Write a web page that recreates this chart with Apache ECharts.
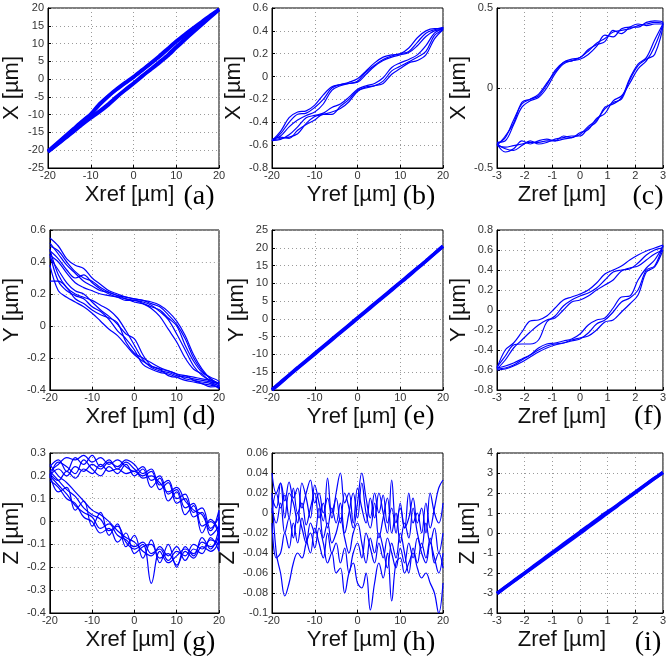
<!DOCTYPE html>
<html><head><meta charset="utf-8">
<script src="https://cdn.jsdelivr.net/npm/echarts@6/dist/echarts.min.js"></script>
<style>html,body{margin:0;padding:0;background:#fff}#c{width:669px;height:663px}</style>
</head><body><div id="c"></div>
<script>
// ---- shared abscissa grids (reference positions) ----
const G20 = [-20,-18,-16,-14,-12,-10,-8,-6,-4,-2,0,2,4,6,8,10,12,14,16,18,20];
const G3  = [-3,-2.7,-2.4,-2.1,-1.8,-1.5,-1.2,-0.9,-0.6,-0.3,0,0.3,0.6,0.9,1.2,1.5,1.8,2.1,2.4,2.7,3];
const G1  = [-20,-19,-18,-17,-16,-15,-14,-13,-12,-11,-10,-9,-8,-7,-6,-5,-4,-3,-2,-1,0,1,2,3,4,5,6,7,8,9,10,11,12,13,14,15,16,17,18,19,20];

// ---- tick labels ----
const tXref = [-20,-10,0,10,20];
const tZref = [-3,-2,-1,0,1,2,3];
const tA = [-25,-20,-15,-10,-5,0,5,10,15,20];
const tB = [-0.8,-0.6,-0.4,-0.2,0,0.2,0.4,0.6];
const tC = [-0.5,0,0.5];
const tD = [-0.4,-0.2,0,0.2,0.4,0.6];
const tE = [-20,-15,-10,-5,0,5,10,15,20,25];
const tF = [-0.8,-0.6,-0.4,-0.2,0,0.2,0.4,0.6,0.8];
const tG = [-0.4,-0.3,-0.2,-0.1,0,0.1,0.2,0.3];
const tH = [-0.1,-0.08,-0.06,-0.04,-0.02,0,0.02,0.04,0.06];
const tI = [-4,-3,-2,-1,0,1,2,3,4];

// ---- (a) X vs Xref : up / down branches ----
const a_up1 = [-20.3,-18.3,-16.2,-14.1,-12.0,-10.0,-7.3,-5.0,-3.0,-1.2,0.5,2.4,4.3,6.2,8.3,10.5,12.3,14.2,16.0,17.8,19.5];
const a_dn1 = [-20.5,-18.6,-16.7,-14.8,-12.8,-11.0,-9.3,-7.4,-5.2,-3.2,-1.3,0.7,2.6,4.5,6.5,8.8,11.0,13.2,15.3,17.4,19.5];
const a_up2 = [-20.2,-18.1,-16.0,-13.9,-11.8,-9.8,-7.0,-4.8,-2.8,-1.0,0.7,2.6,4.5,6.5,8.6,10.7,12.6,14.4,16.2,18.0,19.6];
const a_dn2 = [-20.4,-18.5,-16.5,-14.6,-12.6,-10.7,-9.0,-7.1,-5.0,-3.0,-1.1,0.9,2.8,4.8,6.8,9.1,11.3,13.4,15.5,17.6,19.6];

// ---- (b) X vs Yref ----
const b_up1 = [-0.56,-0.50,-0.40,-0.33,-0.32,-0.27,-0.20,-0.10,-0.07,-0.06,-0.04,0.04,0.10,0.15,0.18,0.20,0.22,0.30,0.38,0.41,0.43];
const b_dn1 = [-0.56,-0.54,-0.53,-0.50,-0.41,-0.35,-0.33,-0.31,-0.28,-0.22,-0.13,-0.09,-0.08,-0.04,0.05,0.09,0.13,0.17,0.22,0.36,0.42];
const b_up2 = [-0.56,-0.48,-0.36,-0.31,-0.30,-0.25,-0.16,-0.09,-0.07,-0.05,-0.02,0.05,0.12,0.17,0.19,0.20,0.25,0.34,0.40,0.42,0.42];
const b_dn2 = [-0.56,-0.55,-0.51,-0.44,-0.36,-0.34,-0.32,-0.27,-0.24,-0.18,-0.11,-0.08,-0.06,-0.01,0.08,0.12,0.15,0.19,0.27,0.38,0.42];
const b_up3 = [-0.55,-0.52,-0.44,-0.38,-0.34,-0.31,-0.24,-0.12,-0.08,-0.06,-0.05,0.02,0.09,0.14,0.17,0.19,0.21,0.27,0.35,0.40,0.41];
const b_dn3 = [-0.56,-0.53,-0.54,-0.47,-0.42,-0.38,-0.33,-0.33,-0.26,-0.20,-0.12,-0.10,-0.08,-0.06,0.02,0.07,0.12,0.14,0.19,0.33,0.41];

// ---- (c) X vs Zref ----
const c_up1 = [-0.35,-0.31,-0.20,-0.10,-0.07,-0.05,0.02,0.11,0.16,0.17,0.19,0.23,0.28,0.31,0.35,0.36,0.37,0.39,0.40,0.41,0.40];
const c_dn1 = [-0.36,-0.37,-0.36,-0.35,-0.34,-0.34,-0.33,-0.33,-0.32,-0.31,-0.29,-0.24,-0.20,-0.13,-0.09,-0.07,0.05,0.14,0.18,0.21,0.40];
const c_up2 = [-0.34,-0.33,-0.23,-0.12,-0.08,-0.06,0.00,0.09,0.15,0.17,0.18,0.21,0.26,0.33,0.32,0.37,0.38,0.38,0.41,0.42,0.41];
const c_dn2 = [-0.35,-0.40,-0.38,-0.33,-0.35,-0.33,-0.32,-0.33,-0.30,-0.31,-0.28,-0.26,-0.19,-0.16,-0.08,-0.05,0.03,0.12,0.17,0.26,0.41];
const c_up3 = [-0.36,-0.30,-0.22,-0.09,-0.07,-0.04,0.03,0.10,0.16,0.18,0.19,0.24,0.27,0.29,0.36,0.34,0.38,0.40,0.39,0.40,0.40];
const c_dn3 = [-0.35,-0.38,-0.39,-0.36,-0.33,-0.35,-0.34,-0.32,-0.31,-0.30,-0.30,-0.25,-0.21,-0.12,-0.10,-0.06,0.06,0.15,0.19,0.30,0.40];

// ---- (d) Y vs Xref ----
const d_up1 = [0.55,0.50,0.42,0.38,0.36,0.30,0.26,0.22,0.20,0.18,0.17,0.16,0.14,0.12,0.07,0.01,-0.08,-0.20,-0.28,-0.33,-0.36];
const d_dn1 = [0.48,0.32,0.24,0.20,0.18,0.16,0.13,0.10,0.05,-0.03,-0.12,-0.21,-0.26,-0.28,-0.29,-0.31,-0.32,-0.33,-0.34,-0.35,-0.36];
const d_up2 = [0.50,0.47,0.40,0.34,0.30,0.28,0.24,0.21,0.19,0.17,0.16,0.15,0.13,0.09,0.04,-0.05,-0.15,-0.25,-0.31,-0.34,-0.37];
const d_dn2 = [0.45,0.28,0.22,0.19,0.17,0.12,0.09,0.04,-0.03,-0.08,-0.15,-0.24,-0.27,-0.29,-0.30,-0.32,-0.34,-0.35,-0.36,-0.37,-0.38];
const d_up3 = [0.47,0.42,0.35,0.30,0.32,0.27,0.23,0.20,0.18,0.17,0.15,0.14,0.12,0.10,0.05,0.00,-0.12,-0.22,-0.29,-0.32,-0.35];
const d_dn3 = [0.43,0.35,0.27,0.22,0.20,0.15,0.10,0.06,0.01,-0.05,-0.08,-0.18,-0.25,-0.27,-0.28,-0.30,-0.31,-0.32,-0.33,-0.34,-0.36];
const d_up4 = [0.52,0.45,0.38,0.33,0.28,0.25,0.22,0.21,0.19,0.18,0.17,0.16,0.15,0.13,0.09,0.03,-0.06,-0.18,-0.27,-0.33,-0.37];
const d_dn4 = [0.28,0.28,0.24,0.17,0.14,0.10,0.07,0.05,0.02,-0.10,-0.17,-0.20,-0.23,-0.26,-0.28,-0.30,-0.33,-0.34,-0.36,-0.38,-0.37];
const d_up5 = [0.44,0.40,0.33,0.27,0.24,0.22,0.20,0.19,0.18,0.16,0.16,0.14,0.11,0.06,-0.02,-0.10,-0.20,-0.27,-0.30,-0.35,-0.38];
const d_dn5 = [0.38,0.22,0.18,0.15,0.12,0.08,0.03,-0.02,-0.06,-0.12,-0.18,-0.22,-0.25,-0.27,-0.31,-0.32,-0.31,-0.34,-0.35,-0.36,-0.39];

// ---- (e) Y vs Yref ----
const e_1 = [-20.0,-18.0,-15.9,-13.9,-11.9,-9.9,-7.9,-5.9,-3.9,-1.9,0.1,2.1,4.1,6.1,8.1,10.1,12.1,14.2,16.2,18.3,20.4];
const e_2 = [-19.9,-17.8,-15.8,-13.7,-11.7,-9.7,-7.7,-5.7,-3.7,-1.7,0.3,2.3,4.3,6.3,8.3,10.3,12.3,14.3,16.3,18.4,20.5];

// ---- (f) Y vs Zref ----
const f_up1 = [-0.58,-0.40,-0.33,-0.22,-0.11,-0.10,-0.06,0.02,0.10,0.13,0.16,0.20,0.27,0.36,0.40,0.44,0.50,0.55,0.59,0.62,0.65];
const f_dn1 = [-0.58,-0.56,-0.53,-0.49,-0.45,-0.40,-0.36,-0.34,-0.33,-0.31,-0.29,-0.23,-0.14,-0.10,-0.02,0.08,0.12,0.20,0.40,0.44,0.65];
const f_up2 = [-0.57,-0.46,-0.35,-0.34,-0.34,-0.30,-0.12,-0.06,0.04,0.10,0.14,0.17,0.22,0.30,0.38,0.40,0.41,0.47,0.55,0.60,0.63];
const f_dn2 = [-0.59,-0.58,-0.55,-0.50,-0.45,-0.38,-0.34,-0.33,-0.31,-0.29,-0.24,-0.15,-0.10,-0.08,0.02,0.13,0.14,0.30,0.42,0.50,0.64];
const f_up3 = [-0.59,-0.50,-0.38,-0.30,-0.22,-0.15,-0.10,-0.08,0.00,0.08,0.10,0.14,0.20,0.25,0.30,0.39,0.42,0.44,0.50,0.56,0.60];
const f_dn3 = [-0.60,-0.59,-0.56,-0.52,-0.47,-0.42,-0.38,-0.35,-0.33,-0.30,-0.28,-0.26,-0.20,-0.12,-0.10,-0.02,0.06,0.15,0.38,0.43,0.60];

// ---- (g) Z vs Xref ----
const g_up1 = [0.22,0.25,0.28,0.27,0.29,0.26,0.28,0.25,0.27,0.24,0.22,0.24,0.18,0.20,0.12,0.14,0.06,0.08,-0.02,0.00,-0.08];
const g_dn1 = [0.20,0.16,0.12,0.07,0.04,0.02,-0.03,-0.01,-0.06,-0.08,-0.11,-0.09,-0.14,-0.12,-0.17,-0.13,-0.15,-0.10,-0.12,-0.08,-0.10];
const g_up2 = [0.20,0.23,0.20,0.24,0.22,0.25,0.23,0.26,0.24,0.27,0.25,0.21,0.23,0.16,0.18,0.10,0.12,0.04,0.06,-0.03,0.02];
const g_dn2 = [0.22,0.18,0.14,0.11,0.06,0.03,0.01,-0.04,-0.02,-0.09,-0.12,-0.10,-0.27,-0.13,-0.18,-0.15,-0.12,-0.14,-0.09,-0.11,-0.05];
const g_up3 = [0.24,0.27,0.22,0.28,0.25,0.29,0.24,0.27,0.23,0.26,0.23,0.20,0.22,0.14,0.17,0.08,0.10,0.02,0.04,-0.06,-0.02];
const g_dn3 = [0.18,0.15,0.10,0.08,0.02,0.00,-0.05,-0.03,-0.09,-0.05,-0.14,-0.11,-0.10,-0.16,-0.14,-0.19,-0.13,-0.16,-0.11,-0.13,-0.07];
const g_up4 = [0.21,0.18,0.22,0.19,0.23,0.21,0.25,0.22,0.23,0.21,0.22,0.19,0.20,0.17,0.13,0.15,0.09,0.05,0.03,-0.04,0.05];
const g_dn4 = [0.25,0.20,0.17,0.13,0.09,0.05,0.03,0.00,-0.04,-0.07,-0.09,-0.13,-0.15,-0.11,-0.15,-0.11,-0.17,-0.12,-0.14,-0.07,-0.13];
const g_up5 = [0.19,0.26,0.24,0.21,0.27,0.23,0.20,0.24,0.21,0.25,0.20,0.23,0.15,0.19,0.09,0.13,0.03,0.07,-0.05,0.01,-0.04];
const g_dn5 = [0.21,0.13,0.15,0.05,0.09,-0.02,0.04,-0.06,-0.01,-0.11,-0.06,-0.16,-0.08,-0.18,-0.10,-0.20,-0.11,-0.15,-0.07,-0.12,-0.03];

// ---- (h) Z vs Yref (six traces, 1 µm steps) ----
const h_1 = [0.040,0.020,0.030,0.012,0.031,0.015,0.025,0.005,0.020,0.033,0.010,0.020,0.000,0.015,-0.005,0.020,0.040,0.010,0.020,-0.010,0.025,0.005,-0.010,0.015,-0.005,0.020,0.000,-0.020,0.033,-0.010,0.005,-0.015,0.020,-0.010,0.000,-0.020,0.010,-0.015,0.005,0.025,0.033];
const h_2 = [0.000,0.020,0.005,0.018,-0.005,0.025,0.000,0.010,-0.012,0.005,0.020,-0.005,0.010,-0.015,0.005,-0.010,0.010,-0.020,0.000,0.020,-0.005,0.030,0.000,-0.015,0.010,-0.025,-0.005,0.015,-0.020,0.000,-0.030,-0.010,-0.025,0.005,-0.020,-0.035,-0.010,-0.030,-0.015,-0.040,-0.020];
const h_3 = [-0.010,-0.045,-0.040,-0.020,-0.035,-0.010,-0.030,-0.005,-0.025,-0.040,-0.015,-0.030,-0.045,-0.020,-0.040,-0.030,-0.050,-0.035,-0.060,-0.040,-0.030,-0.045,-0.020,-0.035,-0.050,-0.030,-0.045,-0.025,-0.040,-0.055,-0.035,-0.050,-0.030,-0.045,-0.025,-0.040,-0.050,-0.030,-0.045,-0.060,-0.040];
const h_4 = [0.020,-0.040,-0.060,-0.083,-0.070,-0.050,-0.040,-0.045,-0.030,-0.020,-0.035,-0.015,-0.030,-0.050,-0.040,-0.060,-0.055,-0.080,-0.060,-0.050,-0.070,-0.075,-0.060,-0.097,-0.070,-0.050,-0.065,-0.040,-0.088,-0.050,-0.045,-0.060,-0.050,-0.040,-0.055,-0.065,-0.060,-0.070,-0.080,-0.100,-0.070];
const h_5 = [0.015,0.005,0.030,-0.005,0.020,0.010,-0.010,0.030,0.015,-0.005,0.028,0.010,-0.008,0.035,0.000,0.015,-0.010,0.020,0.005,-0.015,0.010,0.040,0.015,-0.005,0.020,0.000,0.018,-0.010,0.005,-0.020,0.010,-0.015,-0.005,0.015,-0.010,0.005,-0.020,0.020,0.000,-0.010,0.010];
const h_6 = [0.005,-0.010,0.010,-0.020,-0.005,-0.025,0.000,-0.015,-0.030,-0.010,-0.020,0.005,-0.025,-0.010,-0.030,-0.020,-0.005,-0.025,-0.040,-0.020,-0.010,-0.030,-0.050,-0.025,-0.040,-0.020,-0.035,-0.055,-0.030,-0.045,-0.020,-0.040,-0.060,-0.035,-0.050,-0.030,-0.045,-0.025,-0.050,-0.040,-0.055];

// ---- (i) Z vs Zref ----
const i_1 = [-3.03,-2.72,-2.42,-2.12,-1.82,-1.52,-1.22,-0.92,-0.62,-0.32,-0.02,0.29,0.59,0.90,1.20,1.52,1.82,2.12,2.43,2.73,3.03];
const i_2 = [-3.02,-2.71,-2.40,-2.10,-1.79,-1.48,-1.17,-0.87,-0.56,-0.26,0.05,0.35,0.66,0.97,1.24,1.54,1.84,2.14,2.44,2.74,3.02];

// ---- layout helpers ----
const colLeft = [48, 272, 497];
const colW = [171, 171, 173];
const rowTop = [8, 230, 453];
const rowH = 160;
const BLUE = '#0000ff';

const panels = [
  {r:0,c:0,xn:'Xref [µm]',yn:'X [µm]',xt:tXref,yt:tA,xi:10,yi:5,ygap:25,lw:3.4,sm:0.2,ownMin:true,loops:[[G20,a_up1,a_dn1],[G20,a_up2,a_dn2]]},
  {r:0,c:1,xn:'Yref [µm]',yn:'X [µm]',xt:tXref,yt:tB,xi:10,yi:0.2,ygap:19,lw:1.2,sm:0.35,loops:[[G20,b_up1,b_dn1],[G20,b_up2,b_dn2],[G20,b_up3,b_dn3]]},
  {r:0,c:2,xn:'Zref [µm]',yn:'X [µm]',xt:tZref,yt:tC,xi:1,yi:0.5,ygap:12,lw:1.2,sm:0.35,loops:[[G3,c_up1,c_dn1],[G3,c_up2,c_dn2],[G3,c_up3,c_dn3]]},
  {r:1,c:0,xn:'Xref [µm]',yn:'Y [µm]',xt:tXref,yt:tD,xi:10,yi:0.2,ygap:23,lw:1.2,sm:0.35,loops:[[G20,d_up1,d_dn1],[G20,d_up2,d_dn2],[G20,d_up3,d_dn3],[G20,d_up4,d_dn4],[G20,d_up5,d_dn5]]},
  {r:1,c:1,xn:'Yref [µm]',yn:'Y [µm]',xt:tXref,yt:tE,xi:10,yi:5,ygap:19,lw:3.4,sm:0.2,lines:[[G20,e_1],[G20,e_2]]},
  {r:1,c:2,xn:'Zref [µm]',yn:'Y [µm]',xt:tZref,yt:tF,xi:1,yi:0.2,ygap:22,lw:1.2,sm:0.35,loops:[[G3,f_up1,f_dn1],[G3,f_up2,f_dn2],[G3,f_up3,f_dn3]]},
  {r:2,c:0,xn:'Xref [µm]',yn:'Z [µm]',xt:tXref,yt:tG,xi:10,yi:0.1,ygap:25,lw:1.2,sm:0.4,loops:[[G20,g_up1,g_dn1],[G20,g_up2,g_dn2],[G20,g_up3,g_dn3],[G20,g_up4,g_dn4],[G20,g_up5,g_dn5]]},
  {r:2,c:1,xn:'Yref [µm]',yn:'Z [µm]',xt:tXref,yt:tH,xi:10,yi:0.02,ygap:27,lw:1.2,sm:0.4,lines:[[G1,h_1],[G1,h_2],[G1,h_3],[G1,h_4],[G1,h_5],[G1,h_6]]},
  {r:2,c:2,xn:'Zref [µm]',yn:'Z [µm]',xt:tZref,yt:tI,xi:1,yi:1,ygap:15,lw:3.4,sm:0.2,lines:[[G3,i_1],[G3,i_2]]}
];
const panelTags = ['(a)','(b)','(c)','(d)','(e)','(f)','(g)','(h)','(i)'];
const tagX = [199, 419, 648];
const tagY = [197, 417, 643];
const xNameShift = [8, 12, 36];

const grids=[], xAxes=[], yAxes=[], series=[], graphics=[];
const FONT = 'Liberation Sans, Arial, sans-serif';
const LABEL_COLOR = '#333';
const split = {show:true, lineStyle:{type:[1,3], color:'#9a9a9a', width:1}};
panels.forEach((p,k)=>{
  grids.push({left:colLeft[p.c], top:rowTop[p.r], width:colW[p.c], height:rowH, show:true, borderColor:'#000', borderWidth:1, containLabel:false});
  const lab = {color:LABEL_COLOR, fontSize:11, fontFamily:FONT, hideOverlap:false, showMinLabel:true, showMaxLabel:true};
  xAxes.push({gridIndex:k, type:'value', min:p.xt[0], max:p.xt[p.xt.length-1], interval:p.xi,
    name:p.xn, nameLocation:'middle', nameGap:16,
    nameTextStyle:{fontSize:22, color:'#111', fontFamily:FONT, padding:[0,xNameShift[p.c],0,0]},
    axisLine:{onZero:false, lineStyle:{color:'#000'}},
    axisTick:{inside:true,length:3,lineStyle:{color:'#000'}, customValues:p.xt},
    axisLabel:{...lab, margin:2, customValues:p.xt},
    splitLine:split});
  const yLabVals = p.ownMin ? p.yt.slice(1) : p.yt;
  yAxes.push({gridIndex:k, type:'value', min:p.yt[0], max:p.yt[p.yt.length-1], interval:p.yi,
    name:p.yn, nameLocation:'middle', nameGap:p.ygap,
    nameTextStyle:{fontSize:22, color:'#111', fontFamily:FONT},
    axisLine:{onZero:false, lineStyle:{color:'#000'}},
    axisTick:{inside:true,length:3,lineStyle:{color:'#000'}, customValues:p.yt},
    axisLabel:{...lab, margin:4, customValues:yLabVals},
    splitLine:split});
  const mk = (data)=>({type:'line', xAxisIndex:k, yAxisIndex:k, data, showSymbol:false, symbol:'none',
    smooth:p.sm, lineStyle:{color:BLUE, width:p.lw}, clip:true, animation:false, silent:true});
  if (p.loops) p.loops.forEach(([g,up,dn])=>{
    const d = up.map((v,i)=>[g[i],v]);
    for (let i=dn.length-1;i>=0;i--) d.push([g[i],dn[i]]);
    series.push(mk(d));
  });
  if (p.lines) p.lines.forEach(([g,v])=>{ series.push(mk(v.map((y,i)=>[g[i],y]))); });
  graphics.push({type:'text', x:tagX[p.c], y:tagY[p.r], style:{text:panelTags[k], fontSize:28,
    fontFamily:'Liberation Serif, DejaVu Serif, serif', fill:'#000', align:'center', verticalAlign:'middle'}});
});

// bottom tick label of panel (a): its own text element, positioned through the y-axis scale
function yPixel(k, v){
  const finders = [{xAxisIndex:k, yAxisIndex:k}, {gridIndex:k}, {seriesIndex: seriesOfPanel[k]}];
  for (const f of finders){
    try { const pt = chart.convertToPixel(f, [panels[k].xt[0], v]); if (pt && isFinite(pt[1])) return pt[1]; } catch(e){}
  }
  try { const pt = chart.convertToPixel({yAxisIndex:k}, v); if (isFinite(pt)) return pt; } catch(e){}
  const p = panels[k];
  return rowTop[p.r] + rowH * (p.yt[p.yt.length-1] - v) / (p.yt[p.yt.length-1] - p.yt[0]);
}
const seriesOfPanel = [];
{ let n=0; panels.forEach((p,k)=>{ seriesOfPanel[k]=n; n += (p.loops||p.lines).length; }); }

const chart = echarts.init(document.getElementById('c'), null, {renderer:'canvas'});
chart.setOption({animation:false, backgroundColor:'#fff', grid:grids, xAxis:xAxes, yAxis:yAxes, series, graphic:graphics});

const extra = [];
panels.forEach((p,k)=>{
  if (!p.ownMin) return;
  const y = yPixel(k, p.yt[0]);
  extra.push({type:'text', x:colLeft[p.c]-4, y:y, z:100, style:{text:String(p.yt[0]), fontSize:11, fontFamily:FONT, fill:LABEL_COLOR, align:'right', verticalAlign:'middle'}});
});
chart.setOption({graphic: graphics.concat(extra)});
</script></body></html>
